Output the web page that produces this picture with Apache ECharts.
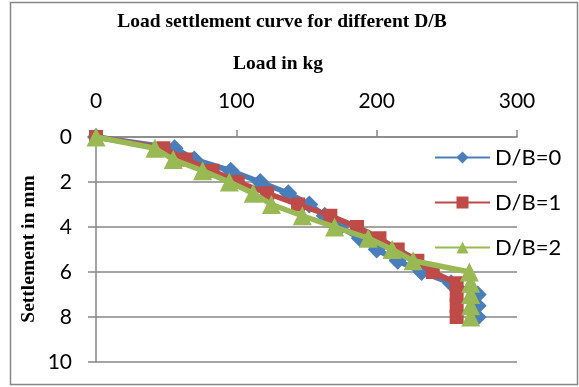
<!DOCTYPE html>
<html>
<head>
<meta charset="utf-8">
<script src="https://cdn.jsdelivr.net/npm/echarts@6/dist/echarts.min.js"></script>
<style>
  html, body { margin: 0; padding: 0; background: #fff; }
  #chart { width: 579px; height: 387px; }
</style>
</head>
<body>
<div id="chart"></div>
<script>
// ---- Data ----
const chartTitle = 'Load settlement curve for different D/B';
const xAxisTitle = 'Load in kg';
const yAxisTitle = 'Settlement in mm';
const seriesNames = ['D/B=0', 'D/B=1', 'D/B=2'];
// settlement readings (mm)
const settlement = [0, 0.5, 1, 1.5, 2, 2.5, 3, 3.5, 4, 4.5, 5, 5.5, 6, 6.5, 7, 7.5, 8];
// load (kg) at each settlement reading
const loadDB0 = [0, 56, 70, 96, 117, 137, 152, 163, 174, 188, 200, 215, 232, 253, 272, 272, 272];
const loadDB1 = [0, 48, 64, 83, 101, 122, 144, 167, 186, 202, 215, 229, 240, 257, 257, 257, 257];
const loadDB2 = [0, 42, 55, 76, 95, 112, 125, 147, 170, 194, 211, 226, 266, 267, 267, 267, 267];
const xTickValues = [0, 100, 200, 300];
const yTickValues = [0, 2, 4, 6, 8, 10];

const colors = ['#4A7EBB', '#BE4B48', '#98B954'];
const symbols = ['diamond', 'rect', 'triangle'];
const symbolSizes = [18, 14, 19];
const loads = [loadDB0, loadDB1, loadDB2];

const chart = echarts.init(document.getElementById('chart'), null, { renderer: 'canvas' });

const series = seriesNames.map((name, i) => ({
  name: name,
  type: 'line',
  data: settlement.map((s, j) => [loads[i][j], s]),
  symbol: symbols[i],
  symbolSize: symbolSizes[i],
  showAllSymbol: true,
  lineStyle: { color: colors[i], width: 5.5 },
  itemStyle: { color: colors[i] },
  emphasis: { disabled: true },
  z: 2 + i,
  animation: false
}));

const labelFont = { color: '#000', fontSize: 21, fontFamily: 'Lato' };

chart.setOption({
  animation: false,
  graphic: [
    { type: 'rect', shape: { x: 10.5, y: 2.5, width: 567, height: 382 },
      style: { fill: 'none', stroke: '#868686', lineWidth: 1.5 }, silent: true, z: -10 },
    { type: 'text', x: 282, y: 22,
      style: { text: chartTitle, font: 'bold 19.5px "Liberation Serif"', fill: '#000', textAlign: 'center', textVerticalAlign: 'middle' } },
    { type: 'text', x: 278, y: 64,
      style: { text: xAxisTitle, font: 'bold 19.5px "Liberation Serif"', fill: '#000', textAlign: 'center', textVerticalAlign: 'middle' } },
    { type: 'text', x: 29, y: 249, rotation: Math.PI / 2,
      style: { text: yAxisTitle, font: 'bold 19.5px "Liberation Serif"', fill: '#000', textAlign: 'center', textVerticalAlign: 'middle' } }
  ],
  grid: { left: 96, right: 62, top: 137, bottom: 25, containLabel: false },
  legend: {
    data: seriesNames,
    orient: 'vertical',
    left: 429,
    top: 141,
    itemWidth: 55,
    itemHeight: 15,
    itemGap: 22,
    textStyle: { color: '#000', fontSize: 22, fontFamily: 'Lato', lineHeight: 23 },
    backgroundColor: 'transparent'
  },
  xAxis: {
    type: 'value',
    position: 'top',
    min: xTickValues[0],
    max: xTickValues[xTickValues.length - 1],
    interval: xTickValues[1] - xTickValues[0],
    axisLine: { show: true, lineStyle: { color: '#868686', width: 1.5 } },
    axisTick: { show: true, length: 7, lineStyle: { color: '#868686', width: 1.5 } },
    axisLabel: Object.assign({ margin: 25 }, labelFont),
    splitLine: { show: false }
  },
  yAxis: {
    type: 'value',
    inverse: true,
    min: yTickValues[0],
    max: yTickValues[yTickValues.length - 1],
    interval: yTickValues[1] - yTickValues[0],
    axisLine: { show: true, lineStyle: { color: '#868686', width: 1.5 } },
    axisTick: { show: true, length: 8, lineStyle: { color: '#868686', width: 1.5 } },
    axisLabel: Object.assign({ margin: 24 }, labelFont),
    splitLine: { show: true, lineStyle: { color: '#868686', width: 1.5 } }
  },
  series: series
});
</script>
</body>
</html>
